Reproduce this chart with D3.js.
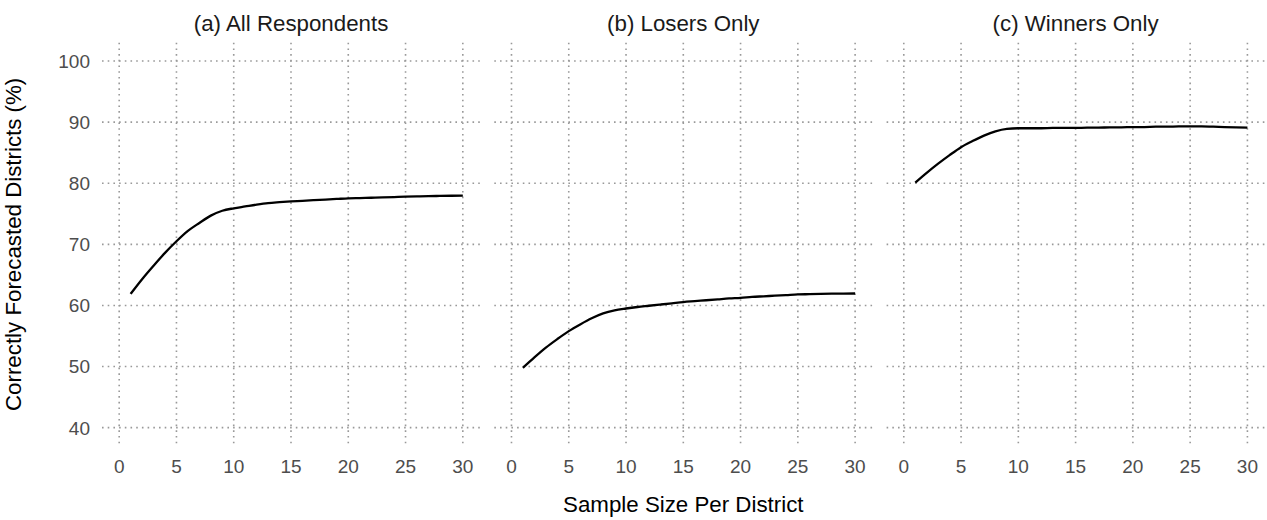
<!DOCTYPE html>
<html>
<head>
<meta charset="utf-8">
<script src="https://cdn.jsdelivr.net/npm/d3@7"></script>
<style>
  html, body { margin: 0; padding: 0; background: #ffffff; }
  svg { display: block; }
  text { font-family: "Liberation Sans", Arial, Helvetica, sans-serif; }
</style>
</head>
<body>
<svg id="chart" width="1267" height="520"></svg>
<script>
// Sample size per district (x) and share of correctly forecasted districts (y, %)
const sampleSizes = d3.range(1, 31);

const panelTitles = ["(a) All Respondents", "(b) Losers Only", "(c) Winners Only"];

const allRespondents = [
  61.9, 64.3, 66.5, 68.6, 70.5, 72.2, 73.5, 74.7, 75.5, 75.9,
  76.2, 76.5, 76.75, 76.9, 77.03, 77.13, 77.23, 77.33, 77.43, 77.53,
  77.58, 77.63, 77.68, 77.74, 77.8, 77.85, 77.89, 77.92, 77.95, 77.97
];

const losersOnly = [
  49.8, 51.5, 53.1, 54.5, 55.8, 56.9, 57.9, 58.7, 59.2, 59.5,
  59.75, 59.95, 60.15, 60.35, 60.55, 60.7, 60.85, 61.0, 61.15, 61.25,
  61.4, 61.5, 61.6, 61.7, 61.8, 61.85, 61.9, 61.93, 61.95, 61.96
];

const winnersOnly = [
  80.1, 81.7, 83.2, 84.6, 85.9, 86.9, 87.8, 88.5, 88.9, 89.0,
  89.0, 89.0, 89.05, 89.05, 89.05, 89.1, 89.1, 89.15, 89.15, 89.2,
  89.2, 89.25, 89.25, 89.3, 89.3, 89.3, 89.25, 89.2, 89.15, 89.1
];

const xTicks = [0, 5, 10, 15, 20, 25, 30];
const yTicks = [40, 50, 60, 70, 80, 90, 100];

const panelSeries = [allRespondents, losersOnly, winnersOnly];

// Layout
const svg = d3.select("#chart");
const panelLeft = 102;
const panelWidth = 378;
const panelGap = 14.3;
const panelTop = 42.7;
const panelBottom = 446;

const gridColor = "#999999";
const tickColor = "#4d4d4d";

const y = d3.scaleLinear().domain([37, 103]).range([panelBottom, panelTop]);

panelSeries.forEach((series, i) => {
  const left = panelLeft + i * (panelWidth + panelGap);
  const x = d3.scaleLinear().domain([-1.5, 31.5]).range([left, left + panelWidth]);
  const g = svg.append("g");

  // dotted major grid
  g.append("g").selectAll("line").data(yTicks).join("line")
    .attr("x1", left).attr("x2", left + panelWidth)
    .attr("y1", d => y(d)).attr("y2", d => y(d))
    .attr("stroke", gridColor).attr("stroke-width", 1.6)
    .attr("stroke-dasharray", "1.6,4.1");

  g.append("g").selectAll("line").data(xTicks).join("line")
    .attr("x1", d => x(d)).attr("x2", d => x(d))
    .attr("y1", panelTop).attr("y2", panelBottom)
    .attr("stroke", gridColor).attr("stroke-width", 1.6)
    .attr("stroke-dasharray", "1.6,4.1");

  // x tick labels
  g.append("g").selectAll("text").data(xTicks).join("text")
    .attr("x", d => x(d)).attr("y", 473.3)
    .attr("text-anchor", "middle")
    .attr("fill", tickColor).attr("font-size", 19)
    .text(d => d);

  // y tick labels on first panel only
  if (i === 0) {
    g.append("g").selectAll("text").data(yTicks).join("text")
      .attr("x", 90).attr("y", d => y(d))
      .attr("dy", "0.36em")
      .attr("text-anchor", "end")
      .attr("fill", tickColor).attr("font-size", 19)
      .text(d => d);
  }

  // panel title
  g.append("text")
    .attr("x", left + panelWidth / 2).attr("y", 30.5)
    .attr("text-anchor", "middle")
    .attr("fill", "#1a1a1a").attr("font-size", 22.3)
    .text(panelTitles[i]);

  // curve
  const line = d3.line()
    .x((d, k) => x(sampleSizes[k]))
    .y(d => y(d))
    .curve(d3.curveMonotoneX);

  g.append("path")
    .datum(series)
    .attr("d", line)
    .attr("fill", "none")
    .attr("stroke", "#000000")
    .attr("stroke-width", 2.3)
    .attr("stroke-linejoin", "round")
    .attr("stroke-linecap", "butt");
});

// axis titles
svg.append("text")
  .attr("x", (panelLeft + panelLeft + 3 * panelWidth + 2 * panelGap) / 2)
  .attr("y", 511.5)
  .attr("text-anchor", "middle")
  .attr("fill", "#000000").attr("font-size", 22.3)
  .text("Sample Size Per District");

svg.append("text")
  .attr("transform", `translate(21, ${(panelTop + panelBottom) / 2}) rotate(-90)`)
  .attr("text-anchor", "middle")
  .attr("fill", "#000000").attr("font-size", 22.3)
  .text("Correctly Forecasted Districts (%)");
</script>
</body>
</html>
